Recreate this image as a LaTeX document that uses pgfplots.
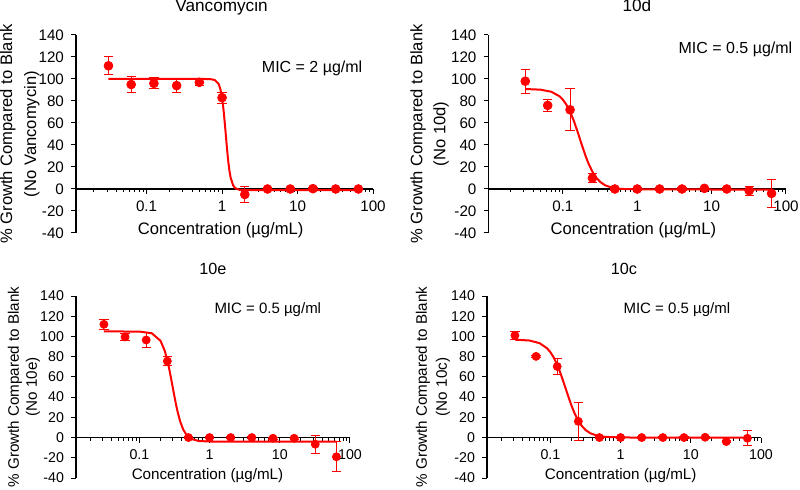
\documentclass[border=0pt]{standalone}
\usepackage{pgfplots}
\usepackage{pgfplotstable}
\pgfplotsset{compat=1.18}
\usepackage{fontspec}
\setmainfont{Liberation Sans}

% measured points: concentration, % growth, error
\pgfplotstableread{
x y e
0.03125 112 8
0.0625 95 7
0.125 96 5
0.25 94 6
0.5 97 3
1 83 5
2 -5 7
4 0 1
8 0 1
16 0.3 1
32 0 0.5
64 0 0.5
}\vancodata
\pgfplotstableread{
x y
0.03125 100
0.3 100
0.6 100
0.7 99.9
0.8 99.1
0.9 95.5
0.95 90.8
1.0 82.9
1.05 70.9
1.1 55.8
1.15 40.3
1.2 26.8
1.25 16.8
1.3 10.2
1.4 3.3
1.5 0.7
1.7 -0.7
2 -0.95
64 -1
}\vancofit

\pgfplotstableread{
x y e
0.03125 98 11
0.0625 76 5.5
0.125 72 19
0.25 10 4.5
0.5 0 1
1 0 1
2 0 1
4 0 1
8 0.6 1
16 0 1
32 -1.5 4
64 -4 13
}\ddata
\pgfplotstableread{
x y
0.03125 90.9
0.05 90.3
0.07 88.4
0.09 84.3
0.1 81.2
0.11 77.3
0.125 70.3
0.14 62.2
0.16 50.8
0.18 40.0
0.2 30.9
0.22 23.5
0.25 15.6
0.28 10.4
0.32 6.25
0.37 3.4
0.45 1.3
0.6 0.1
1 -0.4
64 -0.5
}\dfit

\pgfplotstableread{
x y e
0.03125 112 4.8
0.0625 99.5 3.7
0.125 96.5 7
0.25 75.6 4.5
0.5 0 1
1 0 1
2 0 1
4 0 1
8 -0.7 1
16 -0.7 1
32 -6.6 9
64 -19 15
}\edata
\pgfplotstableread{
x y
0.03125 105
0.1 104.8
0.15 103.2
0.2 95.7
0.23 85.7
0.25 76.4
0.27 65.7
0.29 54.4
0.31 43.5
0.33 33.8
0.35 25.6
0.38 16.2
0.42 8.1
0.47 2.5
0.55 -1.4
0.7 -3.4
1 -3.9
64 -4
}\efit

\pgfplotstableread{
x y e
0.03125 101 4.3
0.0625 80.3 1
0.125 70.3 7.8
0.25 16 18.5
0.5 0 1
1 0 1
2 0 1
4 0 1
8 0 1
16 0.3 1
32 -4 1
64 -0.7 7.5
}\cdata
\pgfplotstableread{
x y
0.03125 96.8
0.05 96.0
0.07 93.4
0.09 88.2
0.1 84.4
0.11 79.9
0.125 72.0
0.14 63.2
0.16 51.3
0.18 40.6
0.2 31.5
0.22 24.3
0.25 16.6
0.28 11.5
0.32 7.2
0.37 4.3
0.45 2.1
0.6 0.7
1 0.1
2 0
64 0
}\cfit

\pgfplotsset{
  every axis/.append style={
    scale only axis, clip=false,
    axis x line*=middle, axis y line*=left,
    tick align=outside,
    axis line style={black, line width=0.6pt},
    tick style={black, line width=0.5pt},
    major tick length=2.5pt, minor tick length=1.5pt,
    xtick={0.1,1,10,100}, xticklabels={0.1,1,10,100},
    minor xtick={0.02,0.03,0.04,0.05,0.06,0.07,0.08,0.09,
      0.2,0.3,0.4,0.5,0.6,0.7,0.8,0.9,2,3,4,5,6,7,8,9,
      20,30,40,50,60,70,80,90},
    ytick={-40,-20,...,140},
    yticklabels={-40,-20,0,20,40,60,80,100,120,140},
  },
  fitline/.style={red, line width=1pt, no markers},
  pts/.style={red, only marks, mark=*, mark size=#1,
    error bars/.cd, y dir=both, y explicit,
    error bar style={red, line width=0.5pt},
    error mark options={red, rotate=90, mark size=2.3pt, line width=0.5pt}},
}

\begin{document}
\begin{tikzpicture}
\useasboundingbox (0,0) rectangle (400pt,244.5pt);

\begin{axis}[at={(38pt,128pt)}, anchor=south west,
    width=148.5pt, height=99pt,
    xmode=log, xmin=0.0116, xmax=100, ymin=-40, ymax=140,
    tick label style={font=\fontsize{7.6}{9}\selectfont},
    ylabel={\% Growth Compared to Blank\\(No Vancomycin)},
    y label style={font=\fontsize{8.3}{12}\selectfont, align=center,
      at={(axis description cs:-0.189,0.5)}, anchor=center}]
\addplot[fitline] table {\vancofit};
\addplot[pts=2.2pt] table[x=x, y=y, y error=e] {\vancodata};
\node[font=\fontsize{8.6}{10}\selectfont, anchor=base] at (rel axis cs:0.49,1.121) {Vancomycin};
\node[font=\fontsize{8.3}{10}\selectfont, anchor=base] at (rel axis cs:0.487,-0.01) {Concentration (µg/mL)};
\node[font=\fontsize{8}{9}\selectfont, anchor=base] at (rel axis cs:0.795,0.812) {MIC = 2 µg/ml};
\end{axis}

\begin{axis}[at={(244.25pt,128pt)}, anchor=south west,
    width=148.75pt, height=99pt,
    xmode=log, xmin=0.01, xmax=100, ymin=-40, ymax=140,
    tick label style={font=\fontsize{7.6}{9}\selectfont},
    ylabel={\% Growth Compared to Blank\\(No 10d)},
    y label style={font=\fontsize{8.3}{11.5}\selectfont, align=center,
      at={(axis description cs:-0.198,0.5)}, anchor=center}]
\addplot[fitline] table {\dfit};
\addplot[pts=2.2pt] table[x=x, y=y, y error=e] {\ddata};
\node[font=\fontsize{8.6}{10}\selectfont, anchor=base] at (rel axis cs:0.499,1.121) {10d};
\node[font=\fontsize{8.3}{10}\selectfont, anchor=base] at (rel axis cs:0.487,-0.01) {Concentration (µg/mL)};
\node[font=\fontsize{8}{9}\selectfont, anchor=base] at (rel axis cs:0.83,0.908) {MIC = 0.5 µg/ml};
\end{axis}

\begin{axis}[at={(38pt,5.5pt)}, anchor=south west,
    width=137pt, height=91pt,
    xmode=log, xmin=0.0125, xmax=100, ymin=-40, ymax=140,
    tick label style={font=\fontsize{7.1}{8.5}\selectfont},
    ylabel={\% Growth Compared to Blank\\(No 10e)},
    y label style={font=\fontsize{7.6}{9}\selectfont, align=center,
      at={(axis description cs:-0.19,0.5)}, anchor=center}]
\addplot[fitline] table {\efit};
\addplot[pts=2pt] table[x=x, y=y, y error=e] {\edata};
\node[font=\fontsize{8.1}{10}\selectfont, anchor=base] at (rel axis cs:0.5,1.119) {10e};
\node[font=\fontsize{7.6}{9}\selectfont, anchor=base] at (rel axis cs:0.48,-0.01) {Concentration (µg/mL)};
\node[font=\fontsize{7.5}{9}\selectfont, anchor=base] at (rel axis cs:0.70,0.905) {MIC = 0.5 µg/ml};
\end{axis}

\begin{axis}[at={(243.5pt,5.5pt)}, anchor=south west,
    width=137pt, height=91pt,
    xmode=log, xmin=0.0125, xmax=100, ymin=-40, ymax=140,
    tick label style={font=\fontsize{7.1}{8.5}\selectfont},
    ylabel={\% Growth Compared to Blank\\(No 10c)},
    y label style={font=\fontsize{7.6}{10}\selectfont, align=center,
      at={(axis description cs:-0.197,0.5)}, anchor=center}]
\addplot[fitline] table {\cfit};
\addplot[pts=2pt] table[x=x, y=y, y error=e] {\cdata};
\node[font=\fontsize{8.1}{10}\selectfont, anchor=base] at (rel axis cs:0.5,1.119) {10c};
\node[font=\fontsize{7.6}{9}\selectfont, anchor=base] at (rel axis cs:0.488,-0.01) {Concentration (µg/mL)};
\node[font=\fontsize{7.5}{9}\selectfont, anchor=base] at (rel axis cs:0.693,0.905) {MIC = 0.5 µg/ml};
\end{axis}
\end{tikzpicture}
\end{document}
